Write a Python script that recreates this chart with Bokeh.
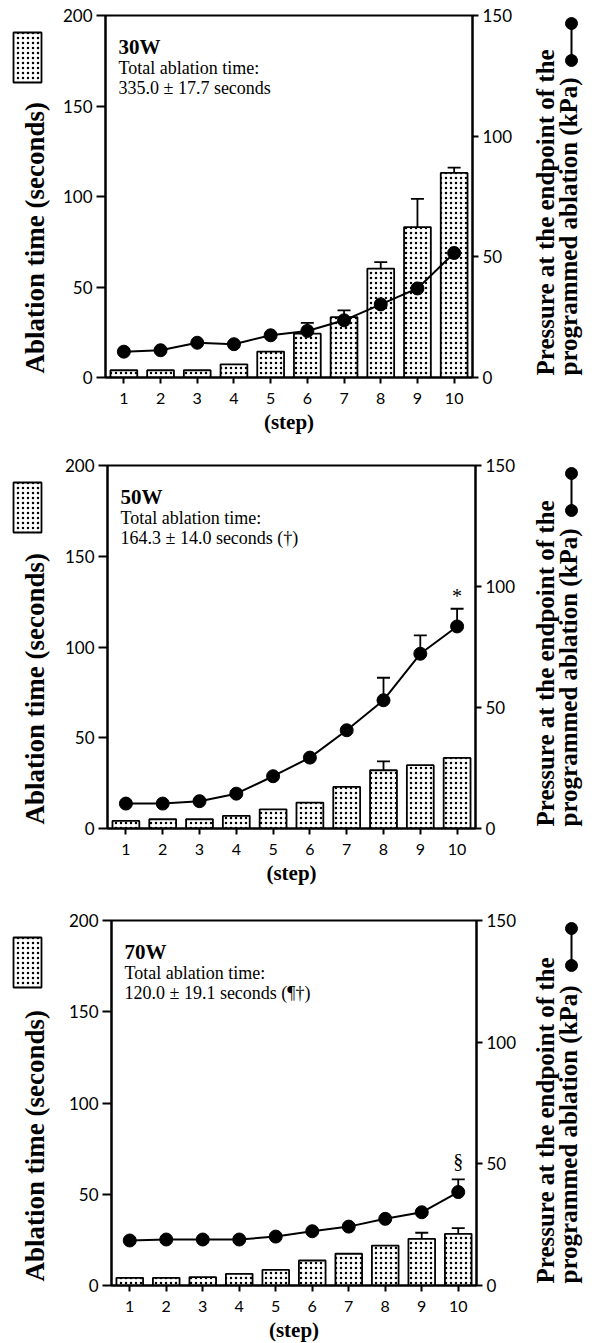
import math
from bokeh.plotting import figure
from bokeh.models import (Range1d, LinearAxis, FixedTicker, Label, Whisker,
                          ColumnDataSource, TeeHead)
from bokeh.layouts import column, row
from bokeh.embed import file_html
from bokeh.resources import INLINE

# ---------------- data ----------------
steps = [1, 2, 3, 4, 5, 6, 7, 8, 9, 10]
step_labels = ["1", "2", "3", "4", "5", "6", "7", "8", "9", "10"]
time_ticks = [0, 50, 100, 150, 200]
press_ticks = [0, 50, 100, 150]

# 30 W
time_30 = [4.0, 4.0, 4.0, 7.3, 14.3, 24.2, 33.4, 60.2, 83.1, 113.0]
time_err_30 = [0, 0, 0, 0, 0, 6.0, 3.7, 3.5, 15.6, 3.0]
press_30 = [10.7, 11.3, 14.4, 13.8, 17.5, 19.3, 23.7, 30.3, 36.9, 51.6]
press_err_30 = [0, 0, 0, 0, 0, 0, 0, 0, 0, 5.2]

# 50 W
time_50 = [4.2, 5.1, 5.1, 7.0, 10.5, 14.3, 22.9, 32.1, 34.9, 38.9]
time_err_50 = [0, 0, 0, 0, 0, 0, 0, 4.9, 0, 0]
press_50 = [10.3, 10.3, 11.3, 14.4, 21.6, 29.3, 40.6, 53.0, 72.2, 83.5]
press_err_50 = [0, 0, 0, 0, 0, 0, 0, 9.3, 7.6, 7.3]

# 70 W
time_70 = [4.2, 4.2, 4.6, 6.4, 8.6, 13.7, 17.4, 21.9, 25.6, 28.3]
time_err_70 = [0, 0, 0, 0, 0, 0, 0, 0, 3.3, 3.1]
press_70 = [18.5, 18.9, 18.9, 18.9, 20.1, 22.3, 24.2, 27.4, 30.1, 38.4]
press_err_70 = [0, 0, 0, 0, 0, 0, 0, 0, 0, 5.2]

titles = ["30W", "50W", "70W"]
subtitle = "Total ablation time:"
totals = ["335.0 \u00b1 17.7 seconds",
          "164.3 \u00b1 14.0 seconds (\u2020)",
          "120.0 \u00b1 19.1 seconds (\u00b6\u2020)"]
marks = [None, ("*", 10, 96.0), ("\u00a7", 10, 51.0)]

left_label = "Ablation time (seconds)"
right_label_1 = "Pressure at the endpoint of the"
right_label_2 = "programmed ablation (kPa)"
x_label = "(step)"

SERIF = "Liberation Serif"
SANS = "Lato"
LEFT_W = 58      # left strip (axis title + swatch)
MAIN_W = 472     # main plot figure
RIGHT_W = 72     # right strip (axis title + marker)


def whisker_src(xs, base, err):
    xx, lo, up = [], [], []
    for x, b, e in zip(xs, base, err):
        if e > 0:
            xx.append(x)
            lo.append(b)
            up.append(b + e)
    return ColumnDataSource(dict(x=xx, lower=lo, upper=up))


def strip(width, top_b, frame_h, bottom_b):
    # frame of the strip is aligned with the neighbouring plot frame;
    # its data units are pixels measured from the frame's bottom-left corner
    s = figure(frame_width=width, frame_height=frame_h,
               min_border_left=0, min_border_right=0,
               min_border_top=top_b, min_border_bottom=bottom_b,
               x_range=Range1d(0, width), y_range=Range1d(0, frame_h),
               x_axis_type=None, y_axis_type=None,
               output_backend="svg", toolbar_location=None, tools="")
    s.grid.visible = False
    s.outline_line_color = None
    s.background_fill_color = "white"
    s.border_fill_color = "white"
    return s


def style_axis(ax, tick_out, size):
    ax.minor_tick_line_color = None
    ax.major_tick_in = 0
    ax.major_tick_out = tick_out
    ax.axis_line_width = 2
    ax.major_tick_line_width = 2
    ax.major_label_text_font = SANS
    ax.major_label_text_font_size = size
    ax.major_label_text_color = "black"
    ax.major_label_standoff = 4


def panel(i, times, terr, press, perr, left_px, frame_w, top_b, frame_h, bottom_b):
    right_b = MAIN_W - left_px - frame_w
    p = figure(frame_width=frame_w, frame_height=frame_h,
               min_border_left=left_px, min_border_right=right_b,
               min_border_top=top_b, min_border_bottom=bottom_b,
               x_range=Range1d(0.5, 10.5), y_range=Range1d(0, 200),
               output_backend="svg", toolbar_location=None, tools="")
    p.grid.visible = False
    p.outline_line_color = "black"
    p.outline_line_width = 2
    p.background_fill_color = "white"
    p.border_fill_color = "white"
    p.extra_y_ranges = {"p": Range1d(0, 150)}

    xa = p.xaxis[0]
    xa.ticker = FixedTicker(ticks=steps)
    xa.major_label_overrides = {s: l for s, l in zip(steps, step_labels)}
    style_axis(xa, 6, "16px")
    xa.major_label_standoff = 9
    xa.axis_label = x_label
    xa.axis_label_text_font = SERIF
    xa.axis_label_text_font_style = "bold"
    xa.axis_label_text_font_size = "21px"
    xa.axis_label_text_color = "black"
    xa.axis_label_standoff = 3

    ya = p.yaxis[0]
    ya.ticker = FixedTicker(ticks=time_ticks)
    style_axis(ya, 9, "17px")

    ra = LinearAxis(y_range_name="p", ticker=FixedTicker(ticks=press_ticks))
    style_axis(ra, 6, "17px")
    p.add_layout(ra, "right")

    # bars
    p.vbar(x=steps, top=times, width=0.73, bottom=0,
           fill_color="white", line_color="black", line_width=1.8,
           hatch_pattern=".", hatch_color="black", hatch_scale=5, hatch_weight=1.3)
    ws = whisker_src(steps, times, terr)
    p.add_layout(Whisker(source=ws, base="x", lower="lower", upper="upper",
                         dimension="height", line_width=1.8, line_color="black",
                         upper_head=TeeHead(size=13, line_width=1.8), lower_head=None))

    # pressure line
    p.line(steps, press, y_range_name="p", line_color="black", line_width=2)
    wp = whisker_src(steps, press, perr)
    p.add_layout(Whisker(source=wp, base="x", lower="lower", upper="upper",
                         dimension="height", line_width=1.8, line_color="black",
                         y_range_name="p",
                         upper_head=TeeHead(size=13, line_width=1.8), lower_head=None))
    p.scatter(steps, press, y_range_name="p", size=13, marker="circle",
              fill_color="black", line_color="black")

    if marks[i] is not None:
        t, mx, my = marks[i]
        p.add_layout(Label(x=mx, y=my, y_range_name="p", text=t,
                           text_font=SERIF, text_font_size="20px", text_color="black",
                           text_align="center", text_baseline="middle"))

    p.add_layout(Label(x=13, y=frame_h - 31, x_units="screen", y_units="screen",
                       text=titles[i], text_font=SERIF, text_font_style="bold",
                       text_font_size="21px", text_color="black",
                       text_baseline="alphabetic"))
    p.add_layout(Label(x=13, y=frame_h - 52, x_units="screen", y_units="screen",
                       text=subtitle, text_font=SERIF, text_color="black",
                       text_font_size="18px", text_baseline="alphabetic"))
    p.add_layout(Label(x=13, y=frame_h - 72, x_units="screen", y_units="screen",
                       text=totals[i], text_font=SERIF, text_color="black",
                       text_font_size="18px", text_baseline="alphabetic"))

    # ---- left strip: axis title and bar swatch ----
    ls = strip(LEFT_W, top_b, frame_h, bottom_b)
    ls.quad(left=[13], right=[41], top=[frame_h - 17], bottom=[frame_h - 67],
            fill_color="white", line_color="black", line_width=1.8,
            hatch_pattern=".", hatch_color="black", hatch_scale=5, hatch_weight=1.3)
    ls.add_layout(Label(x=34, y=4, text=left_label, angle=math.pi / 2,
                        text_font=SERIF, text_font_style="bold", text_font_size="27px",
                        text_color="black", text_align="left", text_baseline="middle"))

    # ---- right strip: two-line axis title and line/marker swatch ----
    rs = strip(RIGHT_W, top_b, frame_h, bottom_b)
    rs.add_layout(Label(x=15, y=2, text=right_label_1, angle=math.pi / 2,
                        text_font=SERIF, text_font_style="bold", text_font_size="25px",
                        text_color="black", text_align="left", text_baseline="middle"))
    rs.add_layout(Label(x=38, y=2, text=right_label_2, angle=math.pi / 2,
                        text_font=SERIF, text_font_style="bold", text_font_size="25px",
                        text_color="black", text_align="left", text_baseline="middle"))
    rs.segment(x0=[41], y0=[frame_h - 8], x1=[41], y1=[frame_h - 45],
               line_color="black", line_width=2)
    rs.scatter(x=[41, 41], y=[frame_h - 8, frame_h - 45], size=12, marker="circle",
               fill_color="black", line_color="black")

    return row(ls, p, rs, spacing=0)


r1 = panel(0, time_30, time_err_30, press_30, press_err_30, 47, 367, 15, 362, 63)
r2 = panel(1, time_50, time_err_50, press_50, press_err_50, 49, 368, 25, 363, 67)
r3 = panel(2, time_70, time_err_70, press_70, press_err_70, 53, 365, 25, 365, 58)

layout = column(r1, r2, r3, spacing=0)
open("out.html", "w").write(file_html(layout, INLINE))
